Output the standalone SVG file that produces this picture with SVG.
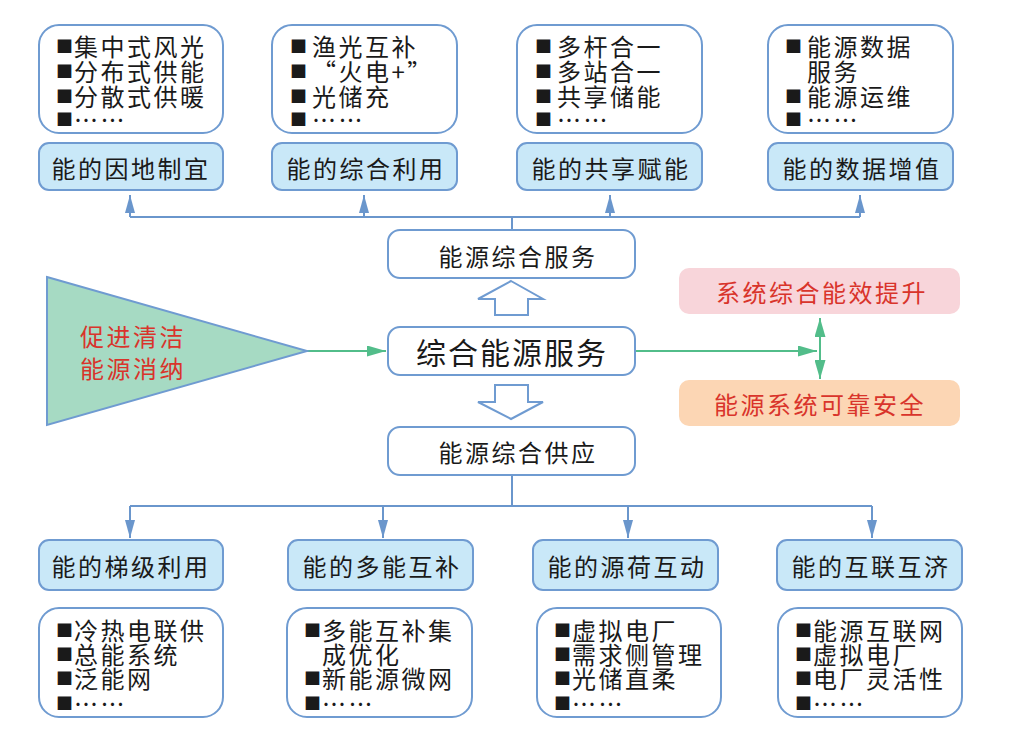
<svg xmlns="http://www.w3.org/2000/svg" width="1009" height="736" viewBox="0 0 1009 736">
<defs>
<style>
.box{fill:#fff;stroke:#6f9bd1;stroke-width:2}
.lbl{fill:#c9e8f8;stroke:#6f9bd1;stroke-width:2}
.t{font-family:"Noto Sans CJK SC","Noto Sans CJK JP",sans-serif;font-size:24px;fill:#1a1a1a;dominant-baseline:central}
.lt{text-anchor:middle;letter-spacing:2.5px}
.it{letter-spacing:2.5px}
.b{font-size:17px;letter-spacing:0}
.red{fill:#d9342b}
.con{fill:none;stroke:#6a96cc;stroke-width:2}
.g{fill:none;stroke:#52bd8a;stroke-width:2}
</style>
<marker id="ab" viewBox="0 0 10 10" refX="10" refY="5" markerWidth="18" markerHeight="10" markerUnits="userSpaceOnUse" preserveAspectRatio="none" orient="auto"><path d="M0,0 L10,5 L0,10 Z" fill="#6a96cc"/></marker>
<marker id="ag" viewBox="0 0 10 10" refX="10" refY="5" markerWidth="19" markerHeight="11" markerUnits="userSpaceOnUse" preserveAspectRatio="none" orient="auto-start-reverse"><path d="M0,0 L10,5 L0,10 Z" fill="#52bd8a"/></marker>
</defs>

<g id="connectors">
<path class="con" d="M512,230 V217 M130,217 H860"/>
<path class="con" d="M130,217 V195" marker-end="url(#ab)"/>
<path class="con" d="M364,217 V195" marker-end="url(#ab)"/>
<path class="con" d="M610,217 V195" marker-end="url(#ab)"/>
<path class="con" d="M860,217 V195" marker-end="url(#ab)"/>
<path class="con" d="M512,475 V506 M130,506 H872"/>
<path class="con" d="M130,506 V538" marker-end="url(#ab)"/>
<path class="con" d="M383,506 V538" marker-end="url(#ab)"/>
<path class="con" d="M628,506 V538" marker-end="url(#ab)"/>
<path class="con" d="M872,506 V538" marker-end="url(#ab)"/>
<path class="g" d="M307,351 H386" marker-end="url(#ag)"/>
<path class="g" d="M635,351 H817" marker-end="url(#ag)"/>
<path class="g" d="M820,318 V379" marker-start="url(#ag)" marker-end="url(#ag)"/>
<path class="box" d="M511,281 L543,299 H528 V315 H495 V299 H478 Z"/>
<path class="box" d="M495,385 H528 V402 H543 L511,419 L478,402 H495 Z"/>
</g>

<g id="clean">
<path d="M47,277 L307,351 L47,425 Z" fill="#a6dac3" stroke="#6f9bd1" stroke-width="2"/>
<text class="t it red" x="80" y="335">促进清洁</text>
<text class="t it red" x="80" y="367">能源消纳</text>
</g>

<g id="svc-top">
<rect class="box" x="388" y="230" width="247" height="48" rx="12"/>
<text class="t lt" x="518" y="255">能源综合服务</text>
</g>
<g id="svc-main">
<rect class="box" x="388" y="327" width="247" height="48" rx="12"/>
<text class="t lt" x="512" y="351" style="font-size:30px;letter-spacing:2px">综合能源服务</text>
</g>
<g id="svc-supply">
<rect class="box" x="388" y="427" width="247" height="48" rx="12"/>
<text class="t lt" x="518" y="451">能源综合供应</text>
</g>

<g id="eff">
<rect x="679" y="268" width="281" height="46" rx="10" fill="#f8d5da"/>
<text class="t lt red" x="822" y="291">系统综合能效提升</text>
</g>
<g id="safe">
<rect x="679" y="380" width="281" height="46" rx="10" fill="#fcd6b4"/>
<text class="t lt red" x="820" y="403">能源系统可靠安全</text>
</g>

<g id="top1">
<rect class="box" x="39" y="25" width="184" height="108" rx="20"/>
<text class="t it" x="56" y="45"><tspan class="b">■</tspan><tspan dx="1">集中式风光</tspan></text>
<text class="t it" x="56" y="70"><tspan class="b">■</tspan><tspan dx="1">分布式供能</tspan></text>
<text class="t it" x="56" y="95"><tspan class="b">■</tspan><tspan dx="1">分散式供暖</tspan></text>
<text class="t it" x="56" y="118"><tspan class="b">■</tspan><tspan dx="1">……</tspan></text>
</g>
<g id="top1l">
<rect class="lbl" x="39" y="143" width="184" height="47" rx="10"/>
<text class="t lt" x="131" y="167">能的因地制宜</text>
</g>
<g id="top2">
<rect class="box" x="272" y="25" width="185" height="108" rx="20"/>
<text class="t it" x="290" y="45"><tspan class="b">■</tspan><tspan dx="5">渔光互补</tspan></text>
<text class="t it" x="290" y="70"><tspan class="b">■</tspan><tspan dx="5">“火电+”</tspan></text>
<text class="t it" x="290" y="95"><tspan class="b">■</tspan><tspan dx="5">光储充</tspan></text>
<text class="t it" x="290" y="118"><tspan class="b">■</tspan><tspan dx="5">……</tspan></text>
</g>
<g id="top2l">
<rect class="lbl" x="272" y="143" width="185" height="47" rx="10"/>
<text class="t lt" x="366" y="167">能的综合利用</text>
</g>
<g id="top3">
<rect class="box" x="517" y="25" width="185" height="108" rx="20"/>
<text class="t it" x="535" y="45"><tspan class="b">■</tspan><tspan dx="5">多杆合一</tspan></text>
<text class="t it" x="535" y="70"><tspan class="b">■</tspan><tspan dx="5">多站合一</tspan></text>
<text class="t it" x="535" y="95"><tspan class="b">■</tspan><tspan dx="5">共享储能</tspan></text>
<text class="t it" x="535" y="118"><tspan class="b">■</tspan><tspan dx="5">……</tspan></text>
</g>
<g id="top3l">
<rect class="lbl" x="517" y="143" width="185" height="47" rx="10"/>
<text class="t lt" x="611" y="167">能的共享赋能</text>
</g>
<g id="top4">
<rect class="box" x="768" y="25" width="185" height="108" rx="20"/>
<text class="t it" x="785" y="45"><tspan class="b">■</tspan><tspan dx="5">能源数据</tspan></text>
<text class="t it" x="807" y="70">服务</text>
<text class="t it" x="785" y="95"><tspan class="b">■</tspan><tspan dx="5">能源运维</tspan></text>
<text class="t it" x="785" y="118"><tspan class="b">■</tspan><tspan dx="5">……</tspan></text>
</g>
<g id="top4l">
<rect class="lbl" x="768" y="143" width="185" height="47" rx="10"/>
<text class="t lt" x="862" y="167">能的数据增值</text>
</g>

<g id="bot1l">
<rect class="lbl" x="39" y="540" width="184" height="50" rx="10"/>
<text class="t lt" x="131" y="565">能的梯级利用</text>
</g>
<g id="bot1">
<rect class="box" x="39" y="608" width="184" height="109" rx="20"/>
<text class="t it" x="56" y="629"><tspan class="b">■</tspan><tspan dx="1">冷热电联供</tspan></text>
<text class="t it" x="56" y="653"><tspan class="b">■</tspan><tspan dx="1">总能系统</tspan></text>
<text class="t it" x="56" y="677"><tspan class="b">■</tspan><tspan dx="1">泛能网</tspan></text>
<text class="t it" x="56" y="702"><tspan class="b">■</tspan><tspan dx="1">……</tspan></text>
</g>
<g id="bot2l">
<rect class="lbl" x="288" y="540" width="185" height="50" rx="10"/>
<text class="t lt" x="382" y="565">能的多能互补</text>
</g>
<g id="bot2">
<rect class="box" x="287" y="608" width="185" height="109" rx="20"/>
<text class="t it" x="304" y="629"><tspan class="b">■</tspan><tspan dx="1">多能互补集</tspan></text>
<text class="t it" x="322" y="653">成优化</text>
<text class="t it" x="304" y="677"><tspan class="b">■</tspan><tspan dx="1">新能源微网</tspan></text>
<text class="t it" x="304" y="702"><tspan class="b">■</tspan><tspan dx="1">……</tspan></text>
</g>
<g id="bot3l">
<rect class="lbl" x="533" y="540" width="185" height="50" rx="10"/>
<text class="t lt" x="627" y="565">能的源荷互动</text>
</g>
<g id="bot3">
<rect class="box" x="537" y="608" width="184" height="109" rx="20"/>
<text class="t it" x="554" y="629"><tspan class="b">■</tspan><tspan dx="1">虚拟电厂</tspan></text>
<text class="t it" x="554" y="653"><tspan class="b">■</tspan><tspan dx="1">需求侧管理</tspan></text>
<text class="t it" x="554" y="677"><tspan class="b">■</tspan><tspan dx="1">光储直柔</tspan></text>
<text class="t it" x="554" y="702"><tspan class="b">■</tspan><tspan dx="1">……</tspan></text>
</g>
<g id="bot4l">
<rect class="lbl" x="777" y="540" width="185" height="50" rx="10"/>
<text class="t lt" x="871" y="565">能的互联互济</text>
</g>
<g id="bot4">
<rect class="box" x="778" y="608" width="184" height="109" rx="20"/>
<text class="t it" x="795" y="629"><tspan class="b">■</tspan><tspan dx="1">能源互联网</tspan></text>
<text class="t it" x="795" y="653"><tspan class="b">■</tspan><tspan dx="1">虚拟电厂</tspan></text>
<text class="t it" x="795" y="677"><tspan class="b">■</tspan><tspan dx="1">电厂灵活性</tspan></text>
<text class="t it" x="795" y="702"><tspan class="b">■</tspan><tspan dx="1">……</tspan></text>
</g>
</svg>
